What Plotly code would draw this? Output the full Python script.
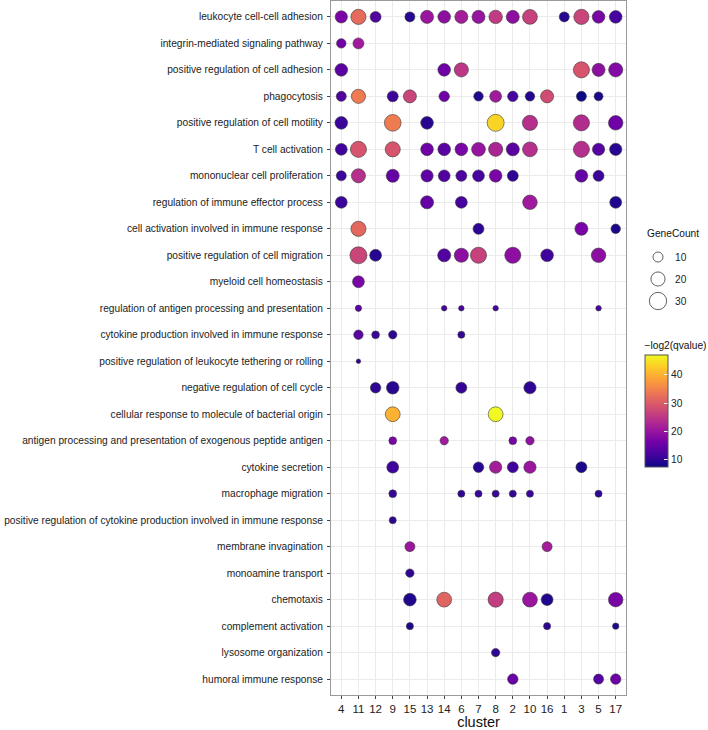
import plotly.graph_objects as go

# ---------------- data ----------------
terms = [
    "leukocyte cell-cell adhesion",
    "integrin-mediated signaling pathway",
    "positive regulation of cell adhesion",
    "phagocytosis",
    "positive regulation of cell motility",
    "T cell activation",
    "mononuclear cell proliferation",
    "regulation of immune effector process",
    "cell activation involved in immune response",
    "positive regulation of cell migration",
    "myeloid cell homeostasis",
    "regulation of antigen processing and presentation",
    "cytokine production involved in immune response",
    "positive regulation of leukocyte tethering or rolling",
    "negative regulation of cell cycle",
    "cellular response to molecule of bacterial origin",
    "antigen processing and presentation of exogenous peptide antigen",
    "cytokine secretion",
    "macrophage migration",
    "positive regulation of cytokine production involved in immune response",
    "membrane invagination",
    "monoamine transport",
    "chemotaxis",
    "complement activation",
    "lysosome organization",
    "humoral immune response",
]

clusters = ["4", "11", "12", "9", "15", "13", "14", "6", "7", "8", "2", "10", "16", "1", "3", "5", "17"]

# clusters present for each term (same order as terms)
term_clusters = [
    [4, 11, 12, 15, 13, 14, 6, 7, 8, 2, 10, 1, 3, 5, 17],
    [4, 11],
    [4, 14, 6, 3, 5, 17],
    [4, 11, 9, 15, 14, 7, 8, 2, 10, 16, 3, 5],
    [4, 9, 13, 8, 10, 3, 17],
    [4, 11, 9, 13, 14, 6, 7, 8, 2, 10, 3, 5, 17],
    [4, 11, 9, 13, 14, 6, 7, 8, 2, 3, 5],
    [4, 13, 6, 10, 17],
    [11, 7, 3, 17],
    [11, 12, 14, 6, 7, 2, 16, 5],
    [11],
    [11, 14, 6, 8, 5],
    [11, 12, 9, 6],
    [11],
    [12, 9, 6, 10],
    [9, 8],
    [9, 14, 2, 10],
    [9, 7, 8, 2, 10, 3],
    [9, 6, 7, 8, 2, 10, 5],
    [9],
    [15, 16],
    [15],
    [15, 14, 8, 10, 16, 17],
    [15, 16, 17],
    [8],
    [2, 5, 17],
]

term_counts = [
    [15, 23, 12, 10, 17, 16, 17, 17, 18, 17, 22, 10, 23, 16, 16],
    [9, 12],
    [16, 16, 20, 26, 17, 20],
    [10, 20, 12, 17, 11, 9, 14, 11, 9, 17, 10, 8],
    [16, 28, 16, 29, 23, 26, 21],
    [14, 26, 23, 16, 16, 16, 19, 20, 17, 22, 26, 15, 15],
    [10, 20, 17, 15, 14, 12, 14, 16, 12, 16, 12],
    [14, 17, 14, 21, 14],
    [23, 12, 17, 9],
    [29, 14, 17, 20, 26, 26, 16, 21],
    [14],
    [4, 3, 3, 3, 3],
    [9, 6, 7, 5],
    [2],
    [11, 16, 12, 15],
    [22, 22],
    [6, 7, 6, 7],
    [14, 11, 15, 12, 15, 12],
    [6, 5, 5, 5, 5, 5, 5],
    [5],
    [10, 10],
    [7],
    [16, 22, 23, 22, 14, 21],
    [5, 5, 4],
    [7],
    [11, 10, 11],
]

term_neglog2q = [
    [17, 32, 13, 9.5, 20.5, 19, 21.5, 20, 25.5, 19, 26.5, 9.5, 27, 17, 12],
    [16, 21],
    [14, 16, 25, 29, 19, 18],
    [13, 34, 11, 27, 16, 9, 21, 12, 9, 28, 7.5, 8.5],
    [11, 34, 9.5, 43.5, 24, 23.5, 16],
    [11.5, 29, 29, 16, 14, 17, 20, 22.5, 14, 24, 24, 13.5, 9.5],
    [11, 24, 15, 14.5, 13, 12.5, 12, 17, 10, 15, 11],
    [11, 15, 12, 21, 9],
    [31.5, 10, 17, 8.5],
    [27, 9.5, 13, 19, 26.5, 19, 11.5, 19],
    [17],
    [14, 12, 12, 12, 12],
    [14, 11, 10, 10.5],
    [10],
    [10, 9.5, 10.5, 10],
    [40, 46.9],
    [17, 21, 17, 19.5],
    [11.5, 9.5, 21.5, 11.5, 20.5, 8.5],
    [10.5, 10, 11, 11, 10.5, 11, 10],
    [10],
    [20.5, 21.5],
    [10],
    [9, 31, 26, 20.5, 9, 17],
    [9, 10, 9],
    [10],
    [15.5, 13.5, 16],
]

legend_counts = [10, 20, 30]
colorbar_ticks = [10, 20, 30, 40]

# ---------------- flatten ----------------
xs, ys, sz, cv = [], [], [], []
for t, cl, cn, vv in zip(terms, term_clusters, term_counts, term_neglog2q):
    for c, n, v in zip(cl, cn, vv):
        xs.append(str(c))
        ys.append(t)
        sz.append(n)
        cv.append(v)

# ---------------- geometry (pixels) ----------------
W, H = 708, 730
L, R, T, B = 331, 0, 1, 35
PW = W - L - R
PH = H - T - B
panel_right = 626


def px_x(p):
    return (p - L) / PW


def px_y(p):
    return (H - B - p) / PH


FONT = "Liberation Sans, Arial, Helvetica, sans-serif"
SIZEREF = 0.2
LEG_FS = 10.2

fig = go.Figure()
fig.add_trace(go.Scatter(
    x=xs, y=ys, mode="markers", showlegend=False,
    marker=dict(
        size=sz, sizemode="area", sizeref=SIZEREF, sizemin=0,
        color=cv, colorscale="Plasma", cmin=min(cv), cmax=max(cv),
        line=dict(color="#3a3a3a", width=0.6),
        opacity=1,
        colorbar=dict(
            title=dict(text="\u2212log2(qvalue)", side="top",
                       font=dict(size=LEG_FS, color="#111", family=FONT)),
            x=px_x(645), xanchor="left",
            y=px_y(403), yanchor="middle",
            len=128, lenmode="pixels",
            thickness=23, thicknessmode="pixels",
            xpad=0, ypad=0,
            tickvals=colorbar_ticks,
            ticks="inside", ticklen=4, tickcolor="white",
            tickfont=dict(size=LEG_FS, color="#222", family=FONT),
            outlinewidth=1, outlinecolor="#555",
        ),
    ),
))

# size legend in an auxiliary pixel-scaled axis
leg_y = [257 + 22 * i for i in range(len(legend_counts))]
fig.add_trace(go.Scatter(
    x=[658] * len(legend_counts), y=leg_y, mode="markers", showlegend=False,
    xaxis="x2", yaxis="y2", hoverinfo="skip",
    marker=dict(size=legend_counts, sizemode="area", sizeref=SIZEREF,
                color="white", line=dict(color="#222", width=1)),
))

annotations = [dict(x=645, y=233, xref="x2", yref="y2", text="GeneCount",
                    showarrow=False, xanchor="left", yanchor="middle",
                    font=dict(size=LEG_FS, color="#111", family=FONT))]
for yy, c in zip(leg_y, legend_counts):
    annotations.append(dict(x=673, y=yy, xref="x2", yref="y2", text=str(c),
                            showarrow=False, xanchor="left", yanchor="middle",
                            font=dict(size=LEG_FS, color="#222", family=FONT)))

axis_common = dict(
    type="category", showgrid=True, gridcolor="#EBEBEB", gridwidth=1,
    showline=True, mirror=True, linecolor="#9a9a9a", linewidth=1,
    ticks="outside", ticklen=3, tickcolor="#444", zeroline=False,
)

fig.update_layout(
    width=W, height=H,
    margin=dict(l=L, r=R, t=T, b=B, autoexpand=False),
    paper_bgcolor="white", plot_bgcolor="white",
    font=dict(family=FONT, color="#222"),
    xaxis=dict(axis_common, categoryorder="array", categoryarray=clusters,
               range=[-0.6, len(clusters) - 0.4],
               domain=[0, px_x(panel_right)],
               tickfont=dict(size=11.5, color="#222"),
               title=dict(text="cluster", font=dict(size=14.5, color="#111"), standoff=7)),
    yaxis=dict(axis_common, categoryorder="array", categoryarray=terms,
               range=[len(terms) - 0.4, -0.6], domain=[0, 1],
               ticklabelstandoff=2,
               tickfont=dict(size=10.2, color="#222")),
    xaxis2=dict(domain=[px_x(640), 1], range=[640, 708], visible=False,
                anchor="y2", fixedrange=True),
    yaxis2=dict(domain=[px_y(320), px_y(220)], range=[320, 220], visible=False,
                anchor="x2", fixedrange=True),
    annotations=annotations,
)

fig.write_html("out.html", config={"displayModeBar": False},
               post_script="document.body.style.margin='0px';")
